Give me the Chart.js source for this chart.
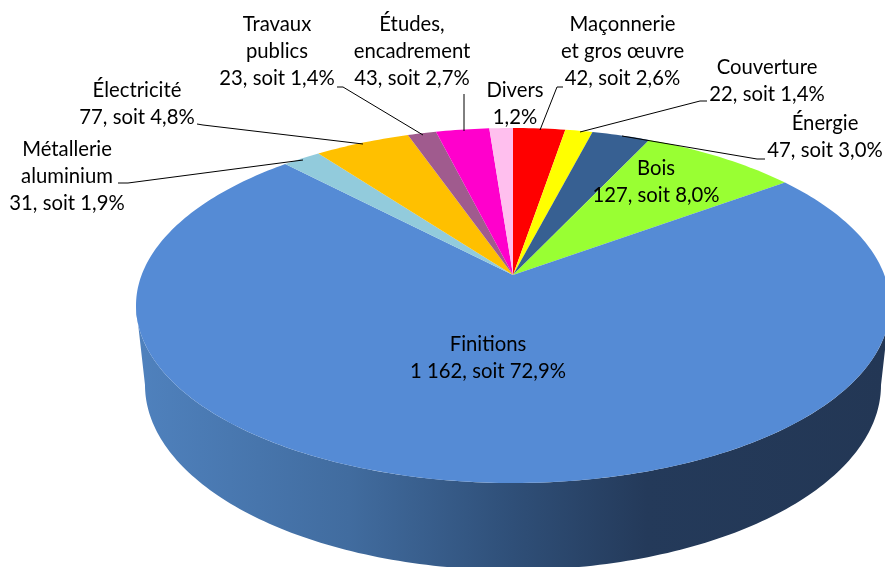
<!DOCTYPE html>
<html>
<head>
<meta charset="utf-8">
<title>Répartition par corps de métier</title>
<script src="https://cdn.jsdelivr.net/npm/chart.js@4/dist/chart.umd.min.js"></script>
<style>
    html, body { margin: 0; padding: 0; background: #fff; overflow: hidden; }
    canvas { display: block; }
</style>
</head>
<body>
<canvas id="pieChart" width="885" height="567"></canvas>
<script>
// data, clockwise from 12 o'clock
const categories = ["Maçonnerie et gros œuvre", "Couverture", "Énergie", "Bois", "Finitions",
    "Métallerie aluminium", "Électricité", "Travaux publics", "Études, encadrement", "Divers"];
const values = [42, 22, 47, 127, 1162, 31, 77, 23, 43, 19];
const percents = ["2,6%", "1,4%", "3,0%", "8,0%", "72,9%", "1,9%", "4,8%", "1,4%", "2,7%", "1,2%"];
const valueTexts = ["42", "22", "47", "127", "1 162", "31", "77", "23", "43", null];
const nameLines = [["Maçonnerie", "et gros œuvre"], ["Couverture"], ["Énergie"], ["Bois"], ["Finitions"],
    ["Métallerie", "aluminium"], ["Électricité"], ["Travaux", "publics"], ["Études,", "encadrement"], ["Divers"]];
const colors = ["#ff0000", "#ffff00", "#376092", "#99ff33", "#558bd5",
    "#92cbdc", "#ffc000", "#a05b8e", "#ff00cc", "#ffbfee"];

// label placement: centre x, first line y, leader polyline
const labelLayout = [
    {x: 622.5, y: 24, leader: [[563, 87], [557, 87], [540, 130]]},
    {x: 767, y: 67.5, leader: [[707, 101], [700, 101], [580, 132]]},
    {x: 825, y: 123.5, leader: [[765, 159], [757, 159], [622, 136]]},
    {x: 656, y: 168.5},
    {x: 488, y: 344},
    {x: 67, y: 149.5, leader: [[118, 183], [128, 183], [303, 160]]},
    {x: 137, y: 90.5, leader: [[197, 124], [203, 125], [363, 144]]},
    {x: 277, y: 24, leader: [[337, 87], [343, 87], [423, 135]]},
    {x: 412, y: 24, leader: [[464, 94], [464, 131]]},
    {x: 515, y: 90.5},
];
const lineHeight = 27;

// 3d look: top disc and lower rim are ellipses, the apex sits off centre (perspective)
const topRim = {cx: 513, cy: 305.5, rx: 377, ry: 177.5};
const lowRim = {cx: 513, cy: 385, rx: 368, ry: 185};
const apexShift = -0.172;

function project(angle, rim) {
    const X = Math.cos(angle), Y = Math.sin(angle);
    const d = 1 + apexShift * Y;
    return {
        x: rim.cx + rim.rx * X * Math.sqrt(1 - apexShift * apexShift) / d,
        y: rim.cy + rim.ry * (Y + apexShift) / d
    };
}

// slices are still the library's arc elements, only their drawing is projected
Chart.ArcElement.prototype.draw = function (ctx) {
    const {startAngle, endAngle} = this.getProps(['startAngle', 'endAngle'], true);
    const steps = Math.max(2, Math.ceil((endAngle - startAngle) * 60));
    ctx.save();
    ctx.fillStyle = this.options.backgroundColor;
    ctx.beginPath();
    ctx.moveTo(topRim.cx, topRim.cy + topRim.ry * apexShift);
    for (let i = 0; i <= steps; i++) {
        const p = project(startAngle + (endAngle - startAngle) * i / steps, topRim);
        ctx.lineTo(p.x, p.y);
    }
    ctx.closePath();
    ctx.fill();
    ctx.restore();
};

const wallPlugin = {
    id: 'wall',
    beforeDatasetsDraw(chart) {
        const ctx = chart.ctx;
        const grad = ctx.createLinearGradient(140, 0, 885, 0);
        grad.addColorStop(0, '#4f81bd');
        grad.addColorStop(0.28, '#416c9f');
        grad.addColorStop(0.5, '#2f4f78');
        grad.addColorStop(0.68, '#243a5a');
        grad.addColorStop(1, '#233755');
        const frontStart = Math.asin(-apexShift);   // right hand extreme of the rim
        const frontEnd = Math.PI - frontStart;      // left hand extreme
        ctx.save();
        ctx.fillStyle = grad;
        chart.getDatasetMeta(0).data.forEach(function (arc) {
            const a = Math.max(arc.startAngle, frontStart);
            const b = Math.min(arc.endAngle, frontEnd);
            if (b <= a) return;
            const steps = Math.ceil((b - a) * 60);
            ctx.beginPath();
            for (let i = 0; i <= steps; i++) {
                const p = project(a + (b - a) * i / steps, topRim);
                ctx.lineTo(p.x, p.y);
            }
            for (let i = steps; i >= 0; i--) {
                const p = project(a + (b - a) * i / steps, lowRim);
                ctx.lineTo(p.x, p.y);
            }
            ctx.closePath();
            ctx.fill();
        });
        ctx.restore();
    }
};

const labelPlugin = {
    id: 'sliceLabels',
    afterDatasetsDraw(chart) {
        const ctx = chart.ctx;
        ctx.save();
        ctx.strokeStyle = '#000';
        ctx.lineWidth = 1;
        labelLayout.forEach(function (l) {
            if (!l.leader) return;
            ctx.beginPath();
            l.leader.forEach(function (p) { ctx.lineTo(p[0], p[1]); });
            ctx.stroke();
        });
        ctx.fillStyle = '#000';
        ctx.font = '20.3px Lato';
        ctx.textAlign = 'center';
        ctx.textBaseline = 'middle';
        labelLayout.forEach(function (l, i) {
            const last = valueTexts[i] ? valueTexts[i] + ', soit ' + percents[i] : percents[i];
            nameLines[i].concat(last).forEach(function (line, n) {
                ctx.fillText(line, l.x, l.y + n * lineHeight);
            });
        });
        ctx.restore();
    }
};

new Chart(document.getElementById('pieChart'), {
    type: 'pie',
    data: {
        labels: categories,
        datasets: [{data: values, backgroundColor: colors, borderWidth: 0}]
    },
    options: {
        responsive: false,
        animation: false,
        plugins: {legend: {display: false}, tooltip: {enabled: false}}
    },
    plugins: [wallPlugin, labelPlugin]
});
</script>
</body>
</html>
